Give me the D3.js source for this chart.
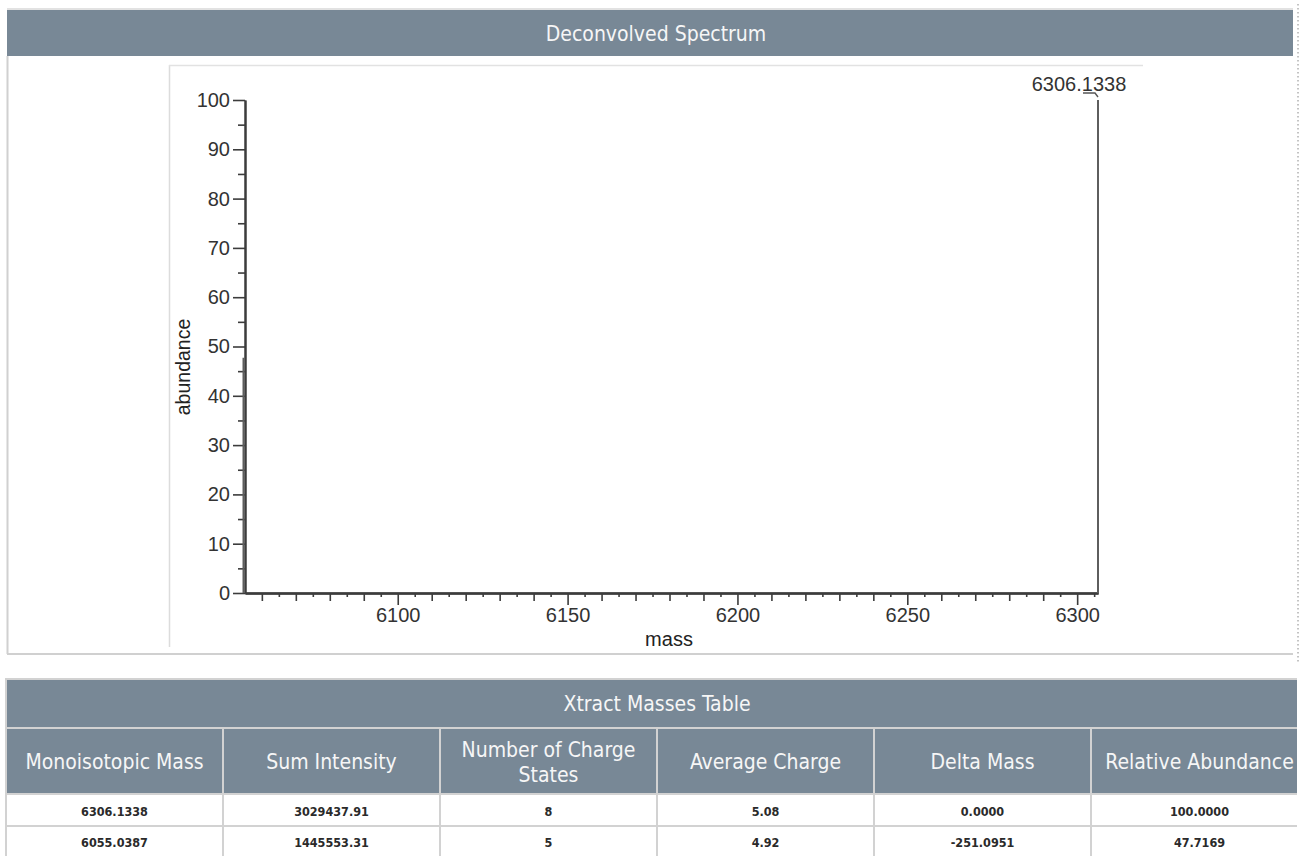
<!DOCTYPE html>
<html>
<head>
<meta charset="utf-8">
<script src="https://cdn.jsdelivr.net/npm/d3@7"></script>
<style>
  html, body { margin: 0; padding: 0; background: #ffffff; }
  svg { display: block; }
  .cond { font-family: "DejaVu Sans Condensed", "DejaVu Sans", sans-serif; font-stretch: condensed; }
  .arial { font-family: "Liberation Sans", Arial, sans-serif; }
</style>
</head>
<body>
<svg id="chart" width="1303" height="856"></svg>
<script>
// ---------------- data ----------------
const masses = [6306.1338, 6055.0387];
const sumIntensity = [3029437.91, 1445553.31];
const chargeStates = [8, 5];
const averageCharge = [5.08, 4.92];
const deltaMass = [0.0000, -251.0951];
const relAbundance = [100.0000, 47.7169];

const columnHeaders = [
  ["Monoisotopic Mass"],
  ["Sum Intensity"],
  ["Number of Charge", "States"],
  ["Average Charge"],
  ["Delta Mass"],
  ["Relative Abundance"]
];
const xTickLabels = [6100, 6150, 6200, 6250, 6300];
const yTickLabels = [0, 10, 20, 30, 40, 50, 60, 70, 80, 90, 100];
const chartTitle = "Deconvolved Spectrum";
const tableTitle = "Xtract Masses Table";

(function () {
// ---------------- layout ----------------
const svg = d3.select("#chart");
const slate = "#788896";
const borderGray = "#d2d2d2";

// Spectrum panel
svg.append("line").attr("x1", 7).attr("x2", 1293).attr("y1", 9).attr("y2", 9)
  .attr("stroke", "#e2e2e2").attr("stroke-width", 2);
svg.append("rect").attr("x", 7).attr("y", 10).attr("width", 1286).attr("height", 46).attr("fill", slate);
svg.append("text").attr("class", "cond").attr("x", 656).attr("y", 34)
  .attr("text-anchor", "middle").attr("dominant-baseline", "central")
  .attr("font-size", 21).attr("fill", "#f6f6f6").text(chartTitle);

svg.append("line").attr("x1", 7.5).attr("x2", 7.5).attr("y1", 56).attr("y2", 654)
  .attr("stroke", "#d0d0d0").attr("stroke-width", 2);
svg.append("line").attr("x1", 7).attr("x2", 1293).attr("y1", 654).attr("y2", 654)
  .attr("stroke", "#d0d0d0").attr("stroke-width", 2);
svg.append("line").attr("x1", 1298).attr("x2", 1298).attr("y1", 4).attr("y2", 662)
  .attr("stroke", "#888").attr("stroke-width", 1).attr("stroke-dasharray", "1.5,2.5");

// inner plot frame
svg.append("line").attr("x1", 169.5).attr("x2", 169.5).attr("y1", 65).attr("y2", 647)
  .attr("stroke", "#dcdcdc").attr("stroke-width", 1.5);
svg.append("line").attr("x1", 169).attr("x2", 1143).attr("y1", 65.5).attr("y2", 65.5)
  .attr("stroke", "#e2e2e2").attr("stroke-width", 1.5);

// scales
const x = d3.scaleLinear().domain(d3.extent(masses)).range([245, 1098]);
const y = d3.scaleLinear().domain([0, 100]).range([593, 100]);

const axisColor = "#3c3c3c";
function styleAxis(g) {
  g.selectAll("path.domain").attr("stroke", axisColor).attr("stroke-width", 2);
  g.selectAll(".tick line").attr("stroke", axisColor).attr("stroke-width", 1.6);
  g.selectAll(".tick text").attr("class", "arial").attr("font-size", 20).attr("fill", "#333");
}

// X axis: small (5), medium (10), major (50, labelled)
const xLo = Math.ceil(x.domain()[0] / 5) * 5, xHi = x.domain()[1];
const xFive = d3.range(xLo, xHi, 5).filter(v => v % 10 !== 0);
const xTen = d3.range(Math.ceil(xLo / 10) * 10, xHi, 10).filter(v => v % 50 !== 0);

svg.append("g").attr("transform", `translate(0,${y(0)})`)
  .call(d3.axisBottom(x).tickValues(xFive).tickSize(4).tickSizeOuter(0).tickFormat(""))
  .call(styleAxis);
svg.append("g").attr("transform", `translate(0,${y(0)})`)
  .call(d3.axisBottom(x).tickValues(xTen).tickSize(8).tickSizeOuter(0).tickFormat(""))
  .call(styleAxis);
svg.append("g").attr("transform", `translate(0,${y(0)})`)
  .call(d3.axisBottom(x).tickValues(xTickLabels).tickSize(12).tickPadding(3).tickSizeOuter(0).tickFormat(d3.format("d")))
  .call(styleAxis);

// Y axis
const yFive = d3.range(5, 100, 10);
svg.append("g").attr("transform", `translate(${x.range()[0]},0)`)
  .call(d3.axisLeft(y).tickValues(yFive).tickSize(7).tickSizeOuter(0).tickFormat(""))
  .call(styleAxis);
svg.append("g").attr("transform", `translate(${x.range()[0]},0)`)
  .call(d3.axisLeft(y).tickValues(yTickLabels).tickSize(12).tickPadding(3).tickSizeOuter(0).tickFormat(d3.format("d")))
  .call(styleAxis);

// axis titles
svg.append("text").attr("class", "arial").attr("font-size", 19.5).attr("fill", "#222")
  .attr("text-anchor", "middle").attr("transform", `translate(190,367) rotate(-90)`)
  .text("abundance");
svg.append("text").attr("class", "arial").attr("font-size", 20).attr("fill", "#222")
  .attr("text-anchor", "middle").attr("x", 669).attr("y", 646).text("mass");

// peaks
const peaks = masses.map((m, i) => ({ mass: m, ab: relAbundance[i] }));
svg.append("g").selectAll("line").data(peaks).join("line")
  .attr("x1", d => x(d.mass) - (d.ab < 100 ? 1.5 : 0)).attr("x2", d => x(d.mass) - (d.ab < 100 ? 1.5 : 0))
  .attr("y1", y(0)).attr("y2", d => y(d.ab))
  .attr("stroke", "#5e5e5e").attr("stroke-width", 2);

// label for the base peak
const basePeak = peaks.reduce((a, b) => (b.ab > a.ab ? b : a));
const tx = x(basePeak.mass), ty = y(basePeak.ab);
svg.append("text").attr("class", "arial").attr("font-size", 20).attr("fill", "#333")
  .attr("text-anchor", "middle").attr("x", tx - 19).attr("y", ty - 9)
  .text(d3.format(".4f")(basePeak.mass));
svg.append("path")
  .attr("d", `M${tx - 15},${ty - 7} L${tx - 3},${ty - 7} L${tx},${ty - 3}`)
  .attr("fill", "none").attr("stroke", "#555").attr("stroke-width", 1.4);

// ---------------- table ----------------
const tX0 = 6, colW = 217, tRight = 1297;
const rowTitle = [679, 728], rowHead = [728, 794];
const dataRowY = [794, 826], dataRowH = [32, 31];

svg.append("defs").append("clipPath").attr("id", "tclip")
  .append("rect").attr("x", tX0 - 1).attr("y", 670).attr("width", tRight - tX0 + 1).attr("height", 190);
const tg = svg.append("g").attr("clip-path", "url(#tclip)");

// title row
tg.append("rect").attr("x", tX0).attr("y", rowTitle[0]).attr("width", colW * 6).attr("height", rowTitle[1] - rowTitle[0])
  .attr("fill", slate).attr("stroke", borderGray).attr("stroke-width", 2);
tg.append("text").attr("class", "cond").attr("x", tX0 + colW * 3).attr("y", (rowTitle[0] + rowTitle[1]) / 2)
  .attr("text-anchor", "middle").attr("dominant-baseline", "central")
  .attr("font-size", 21).attr("fill", "#f6f6f6").text(tableTitle);

// header row
const hg = tg.append("g").selectAll("g").data(columnHeaders).join("g")
  .attr("transform", (d, i) => `translate(${tX0 + i * colW},${rowHead[0]})`);
hg.append("rect").attr("width", colW).attr("height", rowHead[1] - rowHead[0])
  .attr("fill", slate).attr("stroke", borderGray).attr("stroke-width", 2);
hg.each(function (lines) {
  const g = d3.select(this);
  const h = rowHead[1] - rowHead[0];
  const lh = 25;
  lines.forEach((t, k) => {
    g.append("text").attr("class", "cond").attr("x", colW / 2)
      .attr("y", h / 2 + 1 + (k - (lines.length - 1) / 2) * lh)
      .attr("text-anchor", "middle").attr("dominant-baseline", "central")
      .attr("font-size", 21).attr("fill", "#f6f6f6").text(t);
  });
});

// data rows
const fmt4 = d3.format(".4f"), fmt2 = d3.format(".2f"), fmtD = d3.format("d");
const rows = masses.map((m, i) => [
  fmt4(m), fmt2(sumIntensity[i]), fmtD(chargeStates[i]),
  fmt2(averageCharge[i]), fmt4(deltaMass[i]).replace("\u2212", "-"), fmt4(relAbundance[i])
]);
const rg = tg.append("g").selectAll("g").data(rows).join("g")
  .attr("transform", (d, i) => `translate(0,${dataRowY[i]})`);
rg.each(function (cells, r) {
  const g = d3.select(this);
  cells.forEach((c, j) => {
    g.append("rect").attr("x", tX0 + j * colW).attr("y", 0).attr("width", colW).attr("height", dataRowH[r])
      .attr("fill", "#ffffff").attr("stroke", borderGray).attr("stroke-width", 2);
    g.append("text").attr("class", "cond").attr("x", tX0 + j * colW + colW / 2).attr("y", dataRowH[r] / 2 + 1)
      .attr("text-anchor", "middle").attr("dominant-baseline", "central")
      .attr("font-size", 12.5).attr("font-weight", "bold").attr("fill", "#2a2a2a").text(c);
  });
});
})();
</script>
</body>
</html>
